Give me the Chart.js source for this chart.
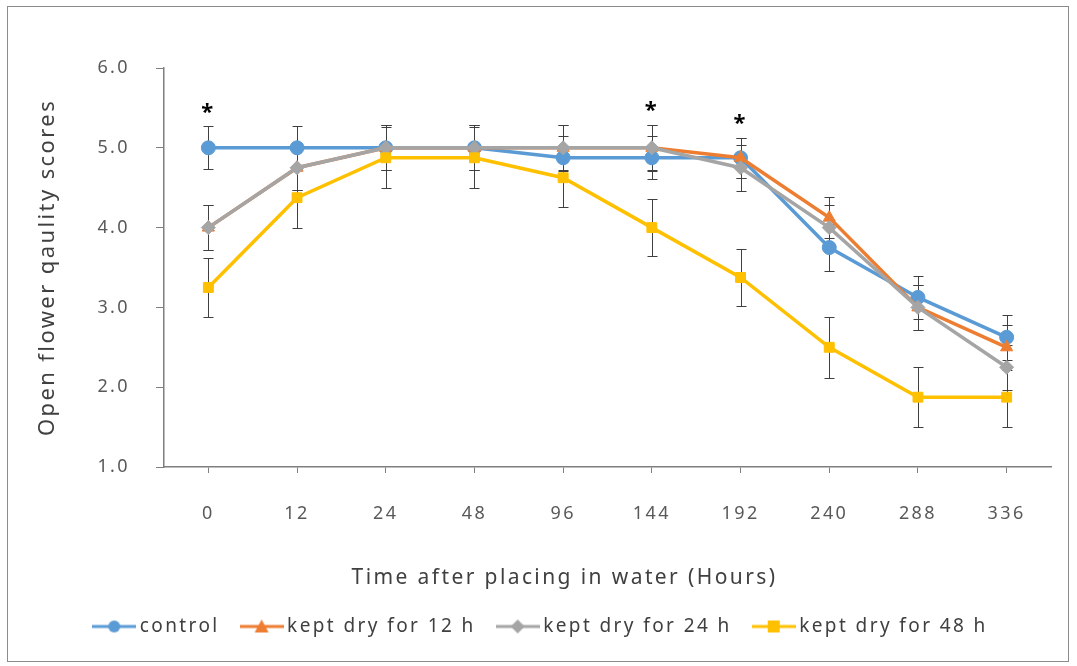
<!DOCTYPE html>
<html>
<head>
<meta charset="utf-8">
<title>Open flower quality</title>
<script src="https://cdn.jsdelivr.net/npm/chart.js@4/dist/chart.umd.min.js"></script>
<style>
  html, body { margin: 0; padding: 0; background: #fff; }
  #wrap { position: relative; width: 1077px; height: 666px; }
  #wrap canvas { position: absolute; left: 0; top: 0; }
  #frame { position: absolute; left: 7px; top: 6px; width: 1060px; height: 654px; border: 1px solid #8c8c8c; pointer-events: none; }
</style>
</head>
<body>
<div id="wrap">
  <canvas id="chart" width="1077" height="666"></canvas>
  <div id="frame"></div>
</div>
<script>
// hours after placing in water
const hours = ['0', '12', '24', '48', '96', '144', '192', '240', '288', '336'];

// mean scores
const control = [5.0, 5.0, 5.0, 5.0, 4.875, 4.875, 4.875, 3.75, 3.125, 2.625];
const dry12   = [4.0, 4.75, 5.0, 5.0, 5.0, 5.0, 4.875, 4.125, 3.0, 2.5];
const dry24   = [4.0, 4.75, 5.0, 5.0, 5.0, 5.0, 4.75, 4.0, 3.0, 2.25];
const dry48   = [3.25, 4.375, 4.875, 4.875, 4.625, 4.0, 3.375, 2.5, 1.875, 1.875];

// standard deviations
const controlSd = [0.27, 0.27, 0.28, 0.28, 0.27, 0.27, 0.25, 0.29, 0.27, 0.28];
const dry12Sd   = [0.28, 0.28, 0.28, 0.28, 0.28, 0.28, 0.25, 0.26, 0.28, 0.28];
const dry24Sd   = [0.28, 0.28, 0.28, 0.28, 0.29, 0.29, 0.29, 0.28, 0.28, 0.28];
const dry48Sd   = [0.37, 0.38, 0.38, 0.38, 0.37, 0.36, 0.36, 0.38, 0.38, 0.38];

// significance marks per time point
const sigMarks = ['*', '', '', '', '', '*', '*', '', '', ''];

const yTicks = [1, 2, 3, 4, 5, 6];

const FONT = '"Noto Sans", "Open Sans", sans-serif';
const SPACING = '2.4px';

function legendIcon(color, style) {
  const c = document.createElement('canvas');
  c.width = 44; c.height = 16;
  const g = c.getContext('2d');
  g.strokeStyle = color; g.fillStyle = color; g.lineWidth = 3;
  g.beginPath(); g.moveTo(0, 8); g.lineTo(44, 8); g.stroke();
  g.beginPath();
  if (style === 'circle') g.arc(22, 8, 6, 0, Math.PI * 2);
  else if (style === 'rect') g.rect(16, 2, 12, 12);
  else if (style === 'triangle') { g.moveTo(22, 1); g.lineTo(29, 14); g.lineTo(15, 14); g.closePath(); }
  else { g.moveTo(22, 1); g.lineTo(29, 8); g.lineTo(22, 15); g.lineTo(15, 8); g.closePath(); }
  g.fill();
  return c;
}

function series(label, data, sd, color, style, order) {
  return {
    label, data, sd, order,
    borderColor: color, backgroundColor: color,
    borderWidth: 3.5,
    pointStyle: style, pointRadius: 7, pointHoverRadius: 7,
    pointBackgroundColor: color, pointBorderColor: color, pointBorderWidth: 1,
    tension: 0, iconStyle: style,
  };
}

// wider letter spacing for all canvas text
const spacing = {
  id: 'spacing',
  beforeInit(chart) { chart.ctx.letterSpacing = SPACING; },
  beforeUpdate(chart) { chart.ctx.letterSpacing = SPACING; },
  beforeDraw(chart) { chart.ctx.letterSpacing = SPACING; },
};

// vertical error bars with caps, under the lines
const errorBars = {
  id: 'errorBars',
  beforeDatasetsDraw(chart) {
    const { ctx } = chart;
    const y = chart.scales.y;
    ctx.save();
    ctx.strokeStyle = '#404040';
    ctx.lineWidth = 1;
    chart.data.datasets.forEach((ds, i) => {
      const meta = chart.getDatasetMeta(i);
      meta.data.forEach((pt, j) => {
        const v = ds.data[j], e = ds.sd[j];
        const top = Math.round(y.getPixelForValue(v + e)) + 0.5;
        const bot = Math.round(y.getPixelForValue(v - e)) + 0.5;
        const x = Math.round(pt.x) + 0.5;
        ctx.beginPath();
        ctx.moveTo(x, top); ctx.lineTo(x, bot);
        ctx.moveTo(x - 5, top); ctx.lineTo(x + 5, top);
        ctx.moveTo(x - 5, bot); ctx.lineTo(x + 5, bot);
        ctx.stroke();
      });
    });
    ctx.restore();
  }
};

// asterisks above the highest error bar at a time point
const sigPlugin = {
  id: 'sig',
  afterDatasetsDraw(chart) {
    const { ctx } = chart;
    const x = chart.scales.x, y = chart.scales.y;
    ctx.save();
    ctx.fillStyle = '#000';
    ctx.font = 'bold 22px ' + FONT;
    ctx.textAlign = 'center';
    ctx.textBaseline = 'middle';
    sigMarks.forEach((m, j) => {
      if (!m) return;
      let top = 0;
      chart.data.datasets.forEach(ds => { top = Math.max(top, ds.data[j] + ds.sd[j]); });
      ctx.fillText(m, x.getPixelForValue(j), y.getPixelForValue(top) - 14);
    });
    ctx.restore();
  }
};

// x axis title, set a little left of the plot centre
const xTitle = {
  id: 'xTitle',
  afterDraw(chart) {
    const { ctx, chartArea } = chart;
    ctx.save();
    ctx.fillStyle = '#404040';
    ctx.font = '21px ' + FONT;
    ctx.textAlign = 'center';
    ctx.textBaseline = 'middle';
    ctx.fillText('Time after placing in water (Hours)', (chartArea.left + chartArea.right) / 2 - 43, chartArea.bottom + 111);
    ctx.restore();
  }
};

const datasets = [
  series('control', control, controlSd, '#5b9bd5', 'circle', 4),
  series('kept dry for 12 h', dry12, dry12Sd, '#ed7d31', 'triangle', 3),
  series('kept dry for 24 h', dry24, dry24Sd, '#a5a5a5', 'rectRot', 2),
  series('kept dry for 48 h', dry48, dry48Sd, '#ffc000', 'rect', 1),
];

new Chart(document.getElementById('chart'), {
  type: 'line',
  data: { labels: hours, datasets },
  plugins: [spacing, errorBars, sigPlugin, xTitle],
  options: {
    responsive: false,
    animation: false,
    layout: { padding: { left: 35, top: 68, right: 26, bottom: 20 } },
    scales: {
      x: {
        offset: true,
        grid: { offset: false, drawOnChartArea: false, drawTicks: true, tickLength: 6, color: '#7f7f7f' },
        border: { color: '#7f7f7f', width: 1.5 },
        ticks: { color: '#595959', font: { size: 18, family: FONT }, padding: 30, maxRotation: 0 },
        afterFit(scale) { scale.height = 124; },
      },
      y: {
        min: 1, max: 6,
        afterBuildTicks(scale) { scale.ticks = yTicks.map(v => ({ value: v })); },
        grid: { drawOnChartArea: false, drawTicks: true, tickLength: 8, color: '#7f7f7f' },
        border: { color: '#7f7f7f', width: 1.5 },
        ticks: { color: '#595959', font: { size: 18, family: FONT }, padding: 26, callback: v => Number(v).toFixed(1) },
        title: { display: true, text: 'Open flower qaulity scores', color: '#404040', font: { size: 22, family: FONT }, padding: 0 },
        afterFit(scale) { scale.width = 129; },
      }
    },
    plugins: {
      tooltip: { enabled: false },
      legend: {
        position: 'bottom',
        labels: {
          usePointStyle: true,
          pointStyleWidth: 32,
          boxHeight: 16,
          padding: 26,
          color: '#404040',
          font: { size: 19, family: FONT },
          generateLabels(chart) {
            return chart.data.datasets.map((ds, i) => ({
              text: ds.label,
              pointStyle: legendIcon(ds.borderColor, ds.iconStyle),
              fillStyle: ds.borderColor,
              strokeStyle: ds.borderColor,
              lineWidth: 0,
              fontColor: '#404040',
              hidden: false,
              datasetIndex: i,
            }));
          }
        }
      }
    }
  }
});
</script>
</body>
</html>
